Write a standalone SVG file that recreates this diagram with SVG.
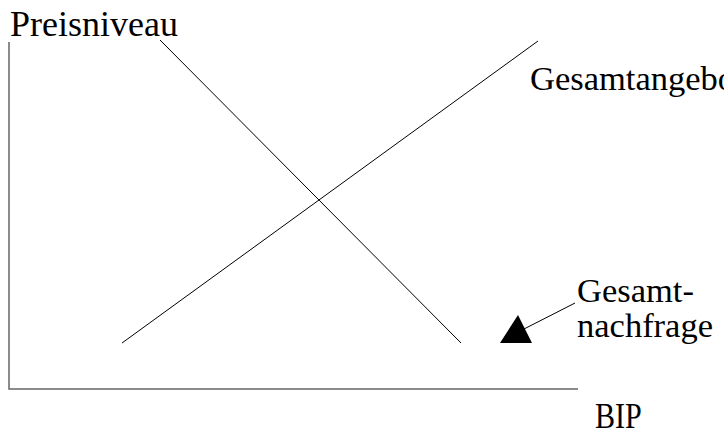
<svg xmlns="http://www.w3.org/2000/svg" width="724" height="434" viewBox="0 0 724 434">
<style>
text{font-family:"Liberation Serif","Times New Roman",serif;font-size:34.5px;fill:#000}
.axis{stroke:#666;stroke-width:1.5;fill:none}
.curve{stroke:#000;stroke-width:1;fill:none}
</style>
<rect width="724" height="434" fill="#fff"/>
<g id="axes">
<polyline class="axis" points="9,42 9,389 578,389"/>
</g>
<g id="connectors">
<line class="curve" x1="160" y1="40" x2="461" y2="343"/>
<line class="curve" x1="122" y1="343" x2="538" y2="41"/>
<line class="curve" x1="524" y1="329" x2="575" y2="303"/>
<polygon points="518,315 500,343 532,343" fill="#000"/>
</g>
<g id="label-preisniveau"><text x="10" y="36" style="font-size:36px">Preisniveau</text></g>
<g id="label-gesamtangebot"><text x="530" y="90">Gesamtangebot</text></g>
<g id="label-gesamtnachfrage"><text x="577" y="302">Gesamt-</text><text x="577" y="337">nachfrage</text></g>
<g id="label-bip"><text transform="translate(595,428) scale(0.86,1)" style="font-size:35px">BIP</text></g>
</svg>
